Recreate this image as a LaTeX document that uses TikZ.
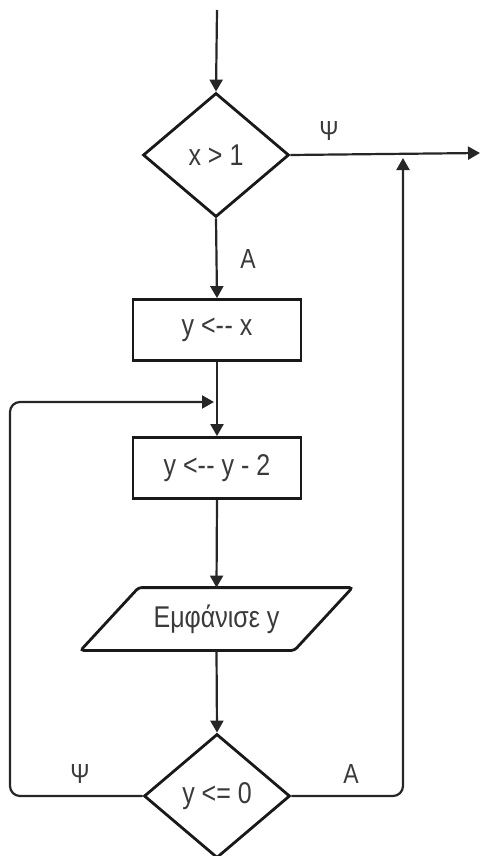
\documentclass[tikz,border=0pt]{standalone}
\usepackage{fontspec}
\setmainfont{Liberation Sans}
\usetikzlibrary{shapes.geometric,arrows.meta,calc}
\definecolor{txt}{HTML}{3a3a3a}
\definecolor{lnc}{HTML}{262626}
\newcommand{\tx}[1]{\scalebox{1}[1.2]{#1}}
\newcommand{\dd}{-\kern0.5pt-}
\tikzset{
  shp/.style={draw=black!90, line width=2.8pt, fill=white, text=txt, inner sep=0pt,
    font=\fontsize{25}{29}\selectfont},
  dia/.style={shp, shape=diamond, minimum width=146pt, minimum height=124pt},
  boxst/.style={shp, rectangle, minimum width=168pt, minimum height=61pt},
  conn/.style={draw=lnc, line width=2.2pt, -{Triangle[length=12pt,width=13pt]}},
  lbl/.style={text=txt, font=\fontsize{23}{27}\selectfont, inner sep=0pt}
}
\begin{document}
\begin{tikzpicture}[x=1pt,y=-1pt]
\useasboundingbox (0,0) rectangle (481,856);
% nodes
\node[dia] (d1) at (216,155) {\tx{x > 1}};
\node[boxst] (b1) at (217,330) {\tx{y <\dd{} x}};
\node[boxst] (b2) at (217,468) {\tx{y <\dd{} y - 2}};
\node[shp, draw=none, fill=none, minimum width=211pt, minimum height=60pt] (p) at (216.5,619) {};
\fill[white, draw=black!90, line width=2.8pt, rounded corners=3pt]
  ($(p.south west)+(-29,0)$) -- ($(p.south east)+(-29,0)$) -- ($(p.north east)+(29,0)$) -- ($(p.north west)+(29,0)$) -- cycle;
\node[text=txt, font=\fontsize{25}{29}\selectfont, inner sep=0pt] (pt) at (p.center) {\tx{Εμφάνισε y}};
\node[dia] (d2) at (217,796) {\tx{y <= 0}};
% coordinates
\coordinate (top) at (217,10);
\coordinate (exit) at (480,153);
\coordinate (j1) at (214,402);
\coordinate (j2) at (403,158);
% connectors
\draw[conn] (top) -- (d1.north);
\draw[conn] (d1.east) -- (exit);
\draw[conn] (d1.south) -- (b1.north);
\draw[conn] (b1.south) -- (b2.north);
\draw[conn] (b2.south) -- (p.north);
\draw[conn] (p.south) -- (d2.north);
\draw[conn, rounded corners=10pt] (d2.west) -- (10,796) -- (10,402) -- (j1);
\draw[conn, rounded corners=10pt] (d2.east) -- (403,796) -- (j2);
% labels
\node[lbl] (l1) at (329,131) {\tx{Ψ}};
\node[lbl] (l2) at (248,259) {\tx{A}};
\node[lbl] (l3) at (80,774) {\tx{Ψ}};
\node[lbl] (l4) at (351,774) {\tx{A}};
\end{tikzpicture}
\end{document}
